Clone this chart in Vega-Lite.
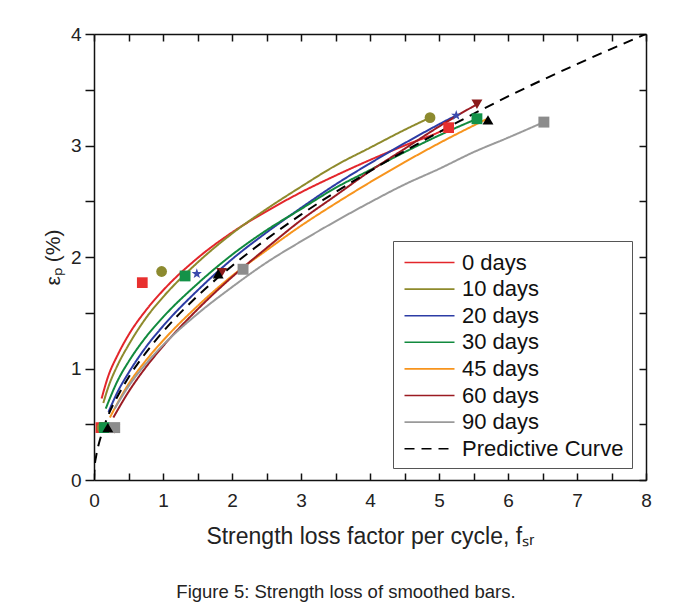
{
  "$schema": "https://vega.github.io/schema/vega-lite/v6.json",
  "width": 552,
  "height": 446,
  "autosize": {"type": "none"},
  "padding": {"left": 94, "top": 34, "right": 31, "bottom": 125},
  "background": "white",
  "config": {
    "font": "Liberation Sans",
    "view": {"stroke": null},
    "axis": {"domainColor": "#111", "domainWidth": 1.5, "tickColor": "#111", "tickWidth": 1.5, "labelColor": "#222", "titleColor": "#222", "labelFont": "Liberation Sans", "titleFont": "Liberation Sans", "labelFontSize": 19, "titleFontSize": 23, "titleFontWeight": "normal", "grid": false, "labelFlush": false, "format": "d"}
  },
  "title": {"text": "Figure 5:  Strength loss of smoothed bars.", "orient": "bottom", "anchor": "middle", "fontSize": 18.5, "fontWeight": "normal", "font": "Liberation Sans", "color": "#222", "offset": 35, "dx": -24},
  "datasets": {
    "curves": [
      {"series": "0 days", "x": 0.11, "y": 0.73}, {"series": "0 days", "x": 0.2, "y": 0.92}, {"series": "0 days", "x": 0.35, "y": 1.13}, {"series": "0 days", "x": 0.5, "y": 1.30}, {"series": "0 days", "x": 0.75, "y": 1.52}, {"series": "0 days", "x": 1, "y": 1.70}, {"series": "0 days", "x": 1.5, "y": 1.99}, {"series": "0 days", "x": 2, "y": 2.22}, {"series": "0 days", "x": 2.5, "y": 2.41}, {"series": "0 days", "x": 3, "y": 2.58}, {"series": "0 days", "x": 3.5, "y": 2.73}, {"series": "0 days", "x": 4, "y": 2.87}, {"series": "0 days", "x": 4.5, "y": 3.00}, {"series": "0 days", "x": 5, "y": 3.12}, {"series": "0 days", "x": 5.14, "y": 3.16},
      {"series": "10 days", "x": 0.135, "y": 0.69}, {"series": "10 days", "x": 0.2, "y": 0.82}, {"series": "10 days", "x": 0.35, "y": 1.04}, {"series": "10 days", "x": 0.5, "y": 1.21}, {"series": "10 days", "x": 0.75, "y": 1.45}, {"series": "10 days", "x": 1, "y": 1.64}, {"series": "10 days", "x": 1.5, "y": 1.95}, {"series": "10 days", "x": 2, "y": 2.21}, {"series": "10 days", "x": 2.5, "y": 2.43}, {"series": "10 days", "x": 3, "y": 2.63}, {"series": "10 days", "x": 3.5, "y": 2.82}, {"series": "10 days", "x": 4, "y": 2.98}, {"series": "10 days", "x": 4.5, "y": 3.14}, {"series": "10 days", "x": 4.87, "y": 3.25},
      {"series": "20 days", "x": 0.21, "y": 0.61}, {"series": "20 days", "x": 0.35, "y": 0.80}, {"series": "20 days", "x": 0.5, "y": 0.96}, {"series": "20 days", "x": 0.75, "y": 1.19}, {"series": "20 days", "x": 1, "y": 1.38}, {"series": "20 days", "x": 1.5, "y": 1.70}, {"series": "20 days", "x": 2, "y": 1.98}, {"series": "20 days", "x": 2.5, "y": 2.22}, {"series": "20 days", "x": 3, "y": 2.44}, {"series": "20 days", "x": 3.5, "y": 2.65}, {"series": "20 days", "x": 4, "y": 2.84}, {"series": "20 days", "x": 4.5, "y": 3.02}, {"series": "20 days", "x": 5, "y": 3.19}, {"series": "20 days", "x": 5.25, "y": 3.27},
      {"series": "30 days", "x": 0.17, "y": 0.64}, {"series": "30 days", "x": 0.35, "y": 0.90}, {"series": "30 days", "x": 0.5, "y": 1.06}, {"series": "30 days", "x": 0.75, "y": 1.28}, {"series": "30 days", "x": 1, "y": 1.46}, {"series": "30 days", "x": 1.5, "y": 1.76}, {"series": "30 days", "x": 2, "y": 2.02}, {"series": "30 days", "x": 2.5, "y": 2.24}, {"series": "30 days", "x": 3, "y": 2.43}, {"series": "30 days", "x": 3.5, "y": 2.62}, {"series": "30 days", "x": 4, "y": 2.78}, {"series": "30 days", "x": 4.5, "y": 2.94}, {"series": "30 days", "x": 5, "y": 3.09}, {"series": "30 days", "x": 5.55, "y": 3.24},
      {"series": "45 days", "x": 0.23, "y": 0.56}, {"series": "45 days", "x": 0.5, "y": 0.86}, {"series": "45 days", "x": 0.75, "y": 1.07}, {"series": "45 days", "x": 1, "y": 1.25}, {"series": "45 days", "x": 1.5, "y": 1.56}, {"series": "45 days", "x": 2, "y": 1.83}, {"series": "45 days", "x": 2.5, "y": 2.06}, {"series": "45 days", "x": 3, "y": 2.28}, {"series": "45 days", "x": 3.5, "y": 2.48}, {"series": "45 days", "x": 4, "y": 2.67}, {"series": "45 days", "x": 4.5, "y": 2.85}, {"series": "45 days", "x": 5, "y": 3.02}, {"series": "45 days", "x": 5.7, "y": 3.24},
      {"series": "60 days", "x": 0.28, "y": 0.56}, {"series": "60 days", "x": 0.5, "y": 0.79}, {"series": "60 days", "x": 0.75, "y": 1.01}, {"series": "60 days", "x": 1, "y": 1.20}, {"series": "60 days", "x": 1.5, "y": 1.53}, {"series": "60 days", "x": 2, "y": 1.82}, {"series": "60 days", "x": 2.5, "y": 2.08}, {"series": "60 days", "x": 3, "y": 2.33}, {"series": "60 days", "x": 3.5, "y": 2.55}, {"series": "60 days", "x": 4, "y": 2.77}, {"series": "60 days", "x": 4.5, "y": 2.97}, {"series": "60 days", "x": 5, "y": 3.17}, {"series": "60 days", "x": 5.55, "y": 3.37},
      {"series": "90 days", "x": 0.3, "y": 0.64}, {"series": "90 days", "x": 0.5, "y": 0.84}, {"series": "90 days", "x": 0.75, "y": 1.04}, {"series": "90 days", "x": 1, "y": 1.21}, {"series": "90 days", "x": 1.5, "y": 1.49}, {"series": "90 days", "x": 2, "y": 1.73}, {"series": "90 days", "x": 2.5, "y": 1.95}, {"series": "90 days", "x": 3, "y": 2.14}, {"series": "90 days", "x": 3.5, "y": 2.32}, {"series": "90 days", "x": 4, "y": 2.49}, {"series": "90 days", "x": 4.5, "y": 2.65}, {"series": "90 days", "x": 5, "y": 2.79}, {"series": "90 days", "x": 5.5, "y": 2.94}, {"series": "90 days", "x": 6, "y": 3.07}, {"series": "90 days", "x": 6.52, "y": 3.21},
      {"series": "Predictive Curve", "x": 0, "y": 0}, {"series": "Predictive Curve", "x": 0.01, "y": 0.12}, {"series": "Predictive Curve", "x": 0.03, "y": 0.21}, {"series": "Predictive Curve", "x": 0.06, "y": 0.30}, {"series": "Predictive Curve", "x": 0.1, "y": 0.39}, {"series": "Predictive Curve", "x": 0.2, "y": 0.57}, {"series": "Predictive Curve", "x": 0.35, "y": 0.76}, {"series": "Predictive Curve", "x": 0.5, "y": 0.92}, {"series": "Predictive Curve", "x": 0.75, "y": 1.14}, {"series": "Predictive Curve", "x": 1, "y": 1.33}, {"series": "Predictive Curve", "x": 1.5, "y": 1.65}, {"series": "Predictive Curve", "x": 2, "y": 1.92}, {"series": "Predictive Curve", "x": 2.5, "y": 2.16}, {"series": "Predictive Curve", "x": 3, "y": 2.38}, {"series": "Predictive Curve", "x": 4, "y": 2.77}, {"series": "Predictive Curve", "x": 5, "y": 3.12}, {"series": "Predictive Curve", "x": 6, "y": 3.44}, {"series": "Predictive Curve", "x": 7, "y": 3.73}, {"series": "Predictive Curve", "x": 8, "y": 4.0}
    ],
    "markers": [
      {"series": "0 days", "x": 0.10, "y": 0.47}, {"series": "0 days", "x": 0.70, "y": 1.77}, {"series": "0 days", "x": 5.14, "y": 3.16},
      {"series": "10 days", "x": 0.12, "y": 0.47}, {"series": "10 days", "x": 0.98, "y": 1.87}, {"series": "10 days", "x": 4.87, "y": 3.25},
      {"series": "20 days", "x": 0.15, "y": 0.47}, {"series": "20 days", "x": 1.49, "y": 1.85}, {"series": "20 days", "x": 5.25, "y": 3.27},
      {"series": "30 days", "x": 0.15, "y": 0.47}, {"series": "30 days", "x": 1.32, "y": 1.83}, {"series": "30 days", "x": 5.55, "y": 3.24},
      {"series": "60 days", "x": 0.30, "y": 0.46}, {"series": "60 days", "x": 1.85, "y": 1.86}, {"series": "60 days", "x": 5.55, "y": 3.37},
      {"series": "90 days", "x": 0.30, "y": 0.47}, {"series": "90 days", "x": 2.16, "y": 1.89}, {"series": "90 days", "x": 6.52, "y": 3.21},
      {"series": "45 days", "x": 0.20, "y": 0.47}, {"series": "45 days", "x": 1.80, "y": 1.85}, {"series": "45 days", "x": 5.71, "y": 3.23}
    ]
  },
  "layer": [
    {
      "data": {"name": "curves"},
      "mark": {"type": "line", "strokeWidth": 2, "interpolate": "monotone", "clip": true},
      "encoding": {
        "x": {"field": "x", "type": "quantitative", "scale": {"domain": [0, 8], "nice": false},
          "axis": {"orient": "bottom", "values": [0, 0.5, 1, 1.5, 2, 2.5, 3, 3.5, 4, 4.5, 5, 5.5, 6, 6.5, 7, 7.5, 8], "labelExpr": "datum.value % 1 === 0 ? datum.label : ''", "tickSize": -7, "labelPadding": 18, "title": "Strength loss factor per cycle, fₛᵣ", "titlePadding": 15}},
        "y": {"field": "y", "type": "quantitative", "scale": {"domain": [0, 4], "nice": false},
          "axis": {"orient": "left", "values": [0, 0.5, 1, 1.5, 2, 2.5, 3, 3.5, 4], "labelExpr": "datum.value % 1 === 0 ? datum.label : ''", "tickSize": 9, "labelPadding": 4, "title": "εₚ (%)", "titleFontSize": 21, "titlePadding": 7}},
        "color": {"field": "series", "type": "nominal",
          "scale": {"domain": ["0 days", "10 days", "20 days", "30 days", "45 days", "60 days", "90 days", "Predictive Curve"], "range": ["#e3262b", "#8e8a2c", "#2c3ca5", "#118a3e", "#f7941d", "#9b1b22", "#9a9a9a", "#000000"]},
          "legend": {"orient": "none", "legendX": 299, "legendY": 207, "title": null, "symbolType": "M-2,0L2,0", "symbolSize": 625, "symbolStrokeWidth": 1.6, "labelFontSize": 22, "labelLimit": 260, "labelFont": "Liberation Sans", "labelColor": "#111", "strokeColor": "#555", "fillColor": "white", "padding": 8, "symbolOffset": 15, "rowPadding": 1.6, "labelOffset": 19, "labelExpr": "datum.label == '0 days' ? '\u2007 0 days' : datum.label"}},
        "strokeDash": {"field": "series", "type": "nominal",
          "scale": {"domain": ["0 days", "10 days", "20 days", "30 days", "45 days", "60 days", "90 days", "Predictive Curve"], "range": [[1, 0], [1, 0], [1, 0], [1, 0], [1, 0], [1, 0], [1, 0], [10, 7]]},
          "legend": {"orient": "none", "legendX": 299, "legendY": 207, "title": null, "symbolType": "M-2,0L2,0", "symbolSize": 625, "symbolStrokeWidth": 1.6, "labelFontSize": 22, "labelLimit": 260, "labelFont": "Liberation Sans", "labelColor": "#111", "strokeColor": "#555", "fillColor": "white", "padding": 8, "symbolOffset": 15, "rowPadding": 1.6, "labelOffset": 19, "labelExpr": "datum.label == '0 days' ? '\u2007 0 days' : datum.label"}}
      }
    },
    {
      "data": {"name": "markers"},
      "mark": {"type": "point", "filled": true, "opacity": 1},
      "encoding": {
        "x": {"field": "x", "type": "quantitative", "axis": null},
        "y": {"field": "y", "type": "quantitative", "axis": null},
        "shape": {"field": "series", "type": "nominal", "legend": null,
          "scale": {"domain": ["0 days", "10 days", "20 days", "30 days", "45 days", "60 days", "90 days"], "range": ["square", "circle", "M0,-1L0.235,-0.324L0.951,-0.309L0.38,0.124L0.588,0.809L0,0.4L-0.588,0.809L-0.38,0.124L-0.951,-0.309L-0.235,-0.324Z", "square", "triangle-up", "triangle-down", "square"]}},
        "size": {"field": "series", "type": "nominal", "legend": null,
          "scale": {"domain": ["0 days", "10 days", "20 days", "30 days", "45 days", "60 days", "90 days"], "range": [115, 120, 230, 115, 140, 140, 115]}},
        "color": {"field": "series", "type": "nominal", "legend": null,
          "scale": {"domain": ["0 days", "10 days", "20 days", "30 days", "45 days", "60 days", "90 days"], "range": ["#e8302f", "#8c8a2f", "#3a4aad", "#139248", "#000000", "#8b1a1a", "#8c8c8c"]}}
      }
    },
    {
      "data": {"name": "markers"},
      "mark": {"type": "point", "opacity": 0},
      "encoding": {
        "x": {"field": "x", "type": "quantitative", "axis": {"orient": "top", "values": [0, 0.5, 1, 1.5, 2, 2.5, 3, 3.5, 4, 4.5, 5, 5.5, 6, 6.5, 7, 7.5, 8], "labels": false, "tickSize": -7, "title": null}},
        "y": {"field": "y", "type": "quantitative", "axis": {"orient": "right", "values": [0, 0.5, 1, 1.5, 2, 2.5, 3, 3.5, 4], "labels": false, "tickSize": -7, "title": null}}
      }
    }
  ],
  "resolve": {"scale": {"color": "independent", "shape": "independent", "strokeDash": "independent", "size": "independent"}, "axis": {"x": "independent", "y": "independent"}}
}
